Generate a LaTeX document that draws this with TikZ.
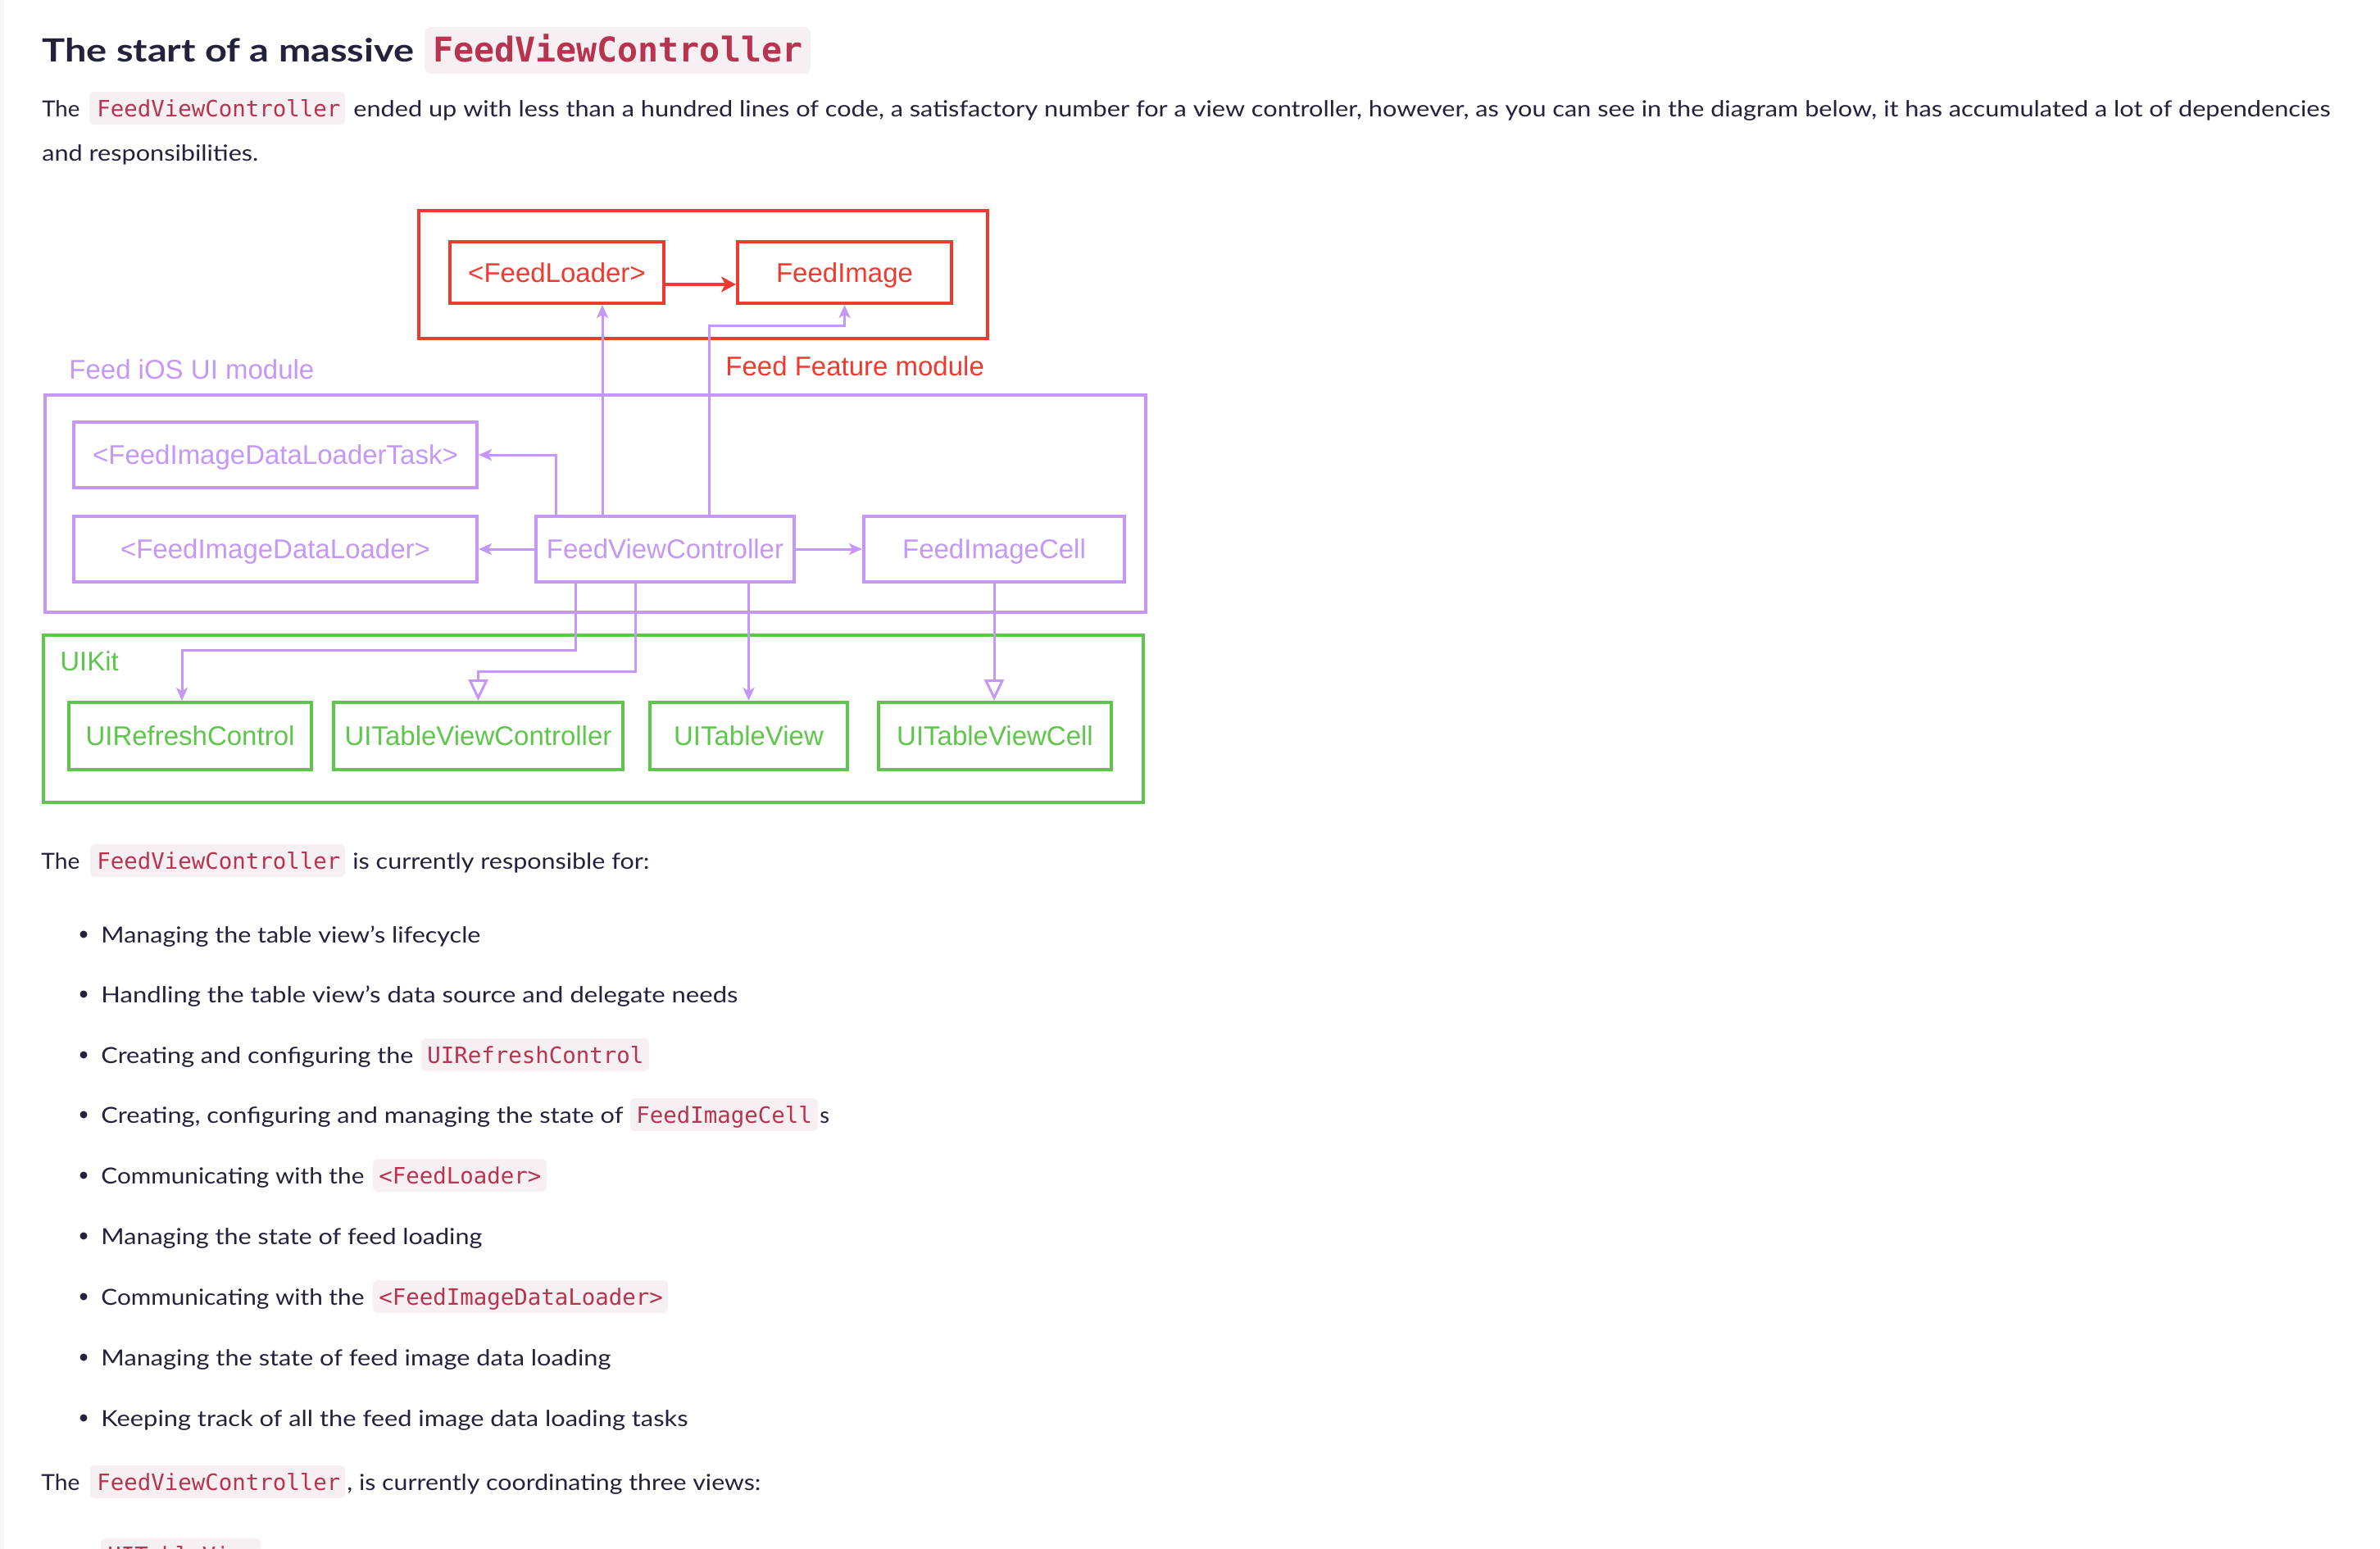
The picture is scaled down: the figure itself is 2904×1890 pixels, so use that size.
\documentclass[tikz,border=0pt]{standalone}
\usepackage{graphicx}
\usepackage{fontspec}
\setmainfont{Lato}
\newfontfamily\diafont{Liberation Sans}
\newfontfamily\codefont{DejaVu Sans Mono}
\usetikzlibrary{arrows.meta,calc}
\definecolor{fred}{HTML}{EE3B30}
\definecolor{fpurple}{HTML}{C497F8}
\definecolor{fgreen}{HTML}{5EC64B}
\definecolor{ink}{HTML}{22233A}
\definecolor{codered}{HTML}{B8334F}
\definecolor{chipbg}{HTML}{F7F0F2}
\newlength\pxu \setlength\pxu{0.5pt}
\newcommand\bodytext[5]{%
  \node[bodyfont, anchor=base west, inner sep=0pt] (#1) at (#2,#3) {\resizebox{#4\pxu}{\height}{#5}};}
\newcommand\codechip[6]{% name, x1, x2, baseline, textx, text
  \fill[chipbg, rounded corners=3pt] (#2,#4-30) rectangle (#3,#4+10);
  \node[codestyle, anchor=base west, inner sep=0pt] (#1) at (#5,#4) {#6};}
\newcommand\bulletdot[2]{\fill[ink] (102,#2-10) circle[radius=2.25pt] coordinate (#1);}
\tikzset{
  bodyfont/.style={text=ink, font=\fontsize{13.5}{16}\selectfont},
  codestyle/.style={text=codered, font=\codefont\fontsize{13.7}{16}\selectfont},
  dbox/.style={draw, line width=2pt, inner sep=0pt, font=\diafont\fontsize{16.5}{18}\selectfont, text height=11.8pt, text depth=0pt},
  rbox/.style={dbox, draw=fred, text=fred},
  pbox/.style={dbox, draw=fpurple, text=fpurple},
  gbox/.style={dbox, draw=fgreen, text=fgreen},
  lbl/.style={inner sep=0pt, anchor=base west, font=\diafont\fontsize{16.5}{18}\selectfont},
  parr/.style={draw=fpurple, line width=1.5pt, -{Stealth[length=8pt,width=7pt,inset=2pt]}},
  popen/.style={draw=fpurple, line width=1.5pt, -{Triangle[open,length=13pt,width=12pt,line width=1.5pt]}},
  rarr/.style={draw=fred, line width=2pt, -{Stealth[length=9pt,width=9.5pt,inset=2.5pt]}}
}
\begin{document}
\begin{tikzpicture}[x=0.5pt, y=-0.5pt]
\useasboundingbox (0,0) rectangle (2904,1890);
\clip (0,0) rectangle (2904,1890);
\fill[white] (0,0) rectangle (2904,1890);
\fill[black!4] (0,0) rectangle (5,1890);

% ---------- title ----------
\node[text=ink, font=\bfseries\fontsize{19.5}{22}\selectfont, anchor=base west, inner sep=0pt] (title) at (51,75) {\resizebox{454\pxu}{\height}{The start of a massive}};
\fill[chipbg, rounded corners=4pt] (518,33) rectangle (989,90);
\node[text=codered, font=\codefont\bfseries\fontsize{20.8}{24}\selectfont, anchor=base west, inner sep=0pt] (titlecode) at (528,75) {FeedViewController};

% ---------- first paragraph ----------
\bodytext{p1a}{51}{142}{46}{The}
\codechip{p1c}{109}{421}{142}{118}{FeedViewController}
\bodytext{p1b}{431}{142}{2412}{ended up with less than a hundred lines of code, a satisfactory number for a view controller, however, as you can see in the diagram below, it has accumulated a lot of dependencies}
\bodytext{p1d}{51}{196}{264}{and responsibilities.}

% ---------- diagram: module frames ----------
\node[draw=fred, line width=2pt, minimum width=347pt, minimum height=78pt, inner sep=0pt] (ffm) at (858,335) {};
\node[draw=fpurple, line width=2pt, minimum width=671.5pt, minimum height=132.5pt, inner sep=0pt] (uim) at (726.5,614.5) {};
\node[draw=fgreen, line width=2pt, minimum width=671pt, minimum height=102pt, inner sep=0pt] (kit) at (724,877) {};
\node[lbl, text=fpurple] (luim) at (84,462) {Feed iOS UI module};
\node[lbl, text=fred] (lffm) at (885,458) {Feed Feature module};
\node[lbl, text=fgreen] (lkit) at (73,818) {UIKit};

% ---------- diagram: boxes ----------
\node[rbox, minimum width=130.5pt, minimum height=37.5pt] (fl) at (679.5,332.5) {<FeedLoader>};
\node[rbox, minimum width=130.5pt, minimum height=37.5pt] (fi) at (1030.5,332.5) {FeedImage};
\node[pbox, minimum width=246pt, minimum height=40pt] (task) at (336,555) {<FeedImageDataLoaderTask>};
\node[pbox, minimum width=246pt, minimum height=40pt] (fidl) at (336,670) {<FeedImageDataLoader>};
\node[pbox, minimum width=157.5pt, minimum height=40pt] (fvc) at (811.5,670) {FeedViewController};
\node[pbox, minimum width=159pt, minimum height=40pt] (fic) at (1213,670) {FeedImageCell};
\node[gbox, minimum width=148pt, minimum height=41pt] (urc) at (232,898) {UIRefreshControl};
\node[gbox, minimum width=176.5pt, minimum height=41pt] (utvc) at (583.5,898) {UITableViewController};
\node[gbox, minimum width=120.5pt, minimum height=41pt] (utv) at (913.5,898) {UITableView};
\node[gbox, minimum width=142pt, minimum height=41pt] (utvcell) at (1214,898) {UITableViewCell};

% ---------- diagram: connectors ----------
\draw[rarr] (fl.east |- 0,347) -- (fi.west |- 0,347);
\draw[parr] (fvc.north -| 678,0) |- (task.east);
\draw[parr] (fvc.north -| 735,0) -- (fl.south -| 735,0);
\draw[parr] (fvc.north -| 865,0) |- ($(fi.south)+(0,25)$) -- (fi.south);
\draw[parr] (fvc.west) -- (fidl.east);
\draw[parr] (fvc.east) -- (fic.west);
\draw[parr] (fvc.south -| 702,0) |- ($(urc.north |- 0,793)+(-10,0)$) -- ($(urc.north)+(-10,0)$);
\draw[popen] (fvc.south -| 775,0) |- (utvc.north |- 0,819) -- (utvc.north);
\draw[parr] (fvc.south -| utv.north) -- (utv.north);
\draw[popen] (fic.south) -- (fic.south |- utvcell.north);

% ---------- second paragraph ----------
\bodytext{p2a}{50}{1060}{47}{The}
\codechip{p2c}{110}{421}{1060}{118}{FeedViewController}
\bodytext{p2b}{430}{1060}{362}{is currently responsible for:}

% ---------- bullets ----------
\bulletdot{d1}{1150}\bodytext{b1}{123}{1150}{463}{Managing the table view’s lifecycle}
\bulletdot{d2}{1223}\bodytext{b2}{123}{1223}{777}{Handling the table view’s data source and delegate needs}
\bulletdot{d3}{1297}\bodytext{b3}{123}{1297}{381}{Creating and configuring the}
\codechip{b3c}{514}{792}{1297}{521}{UIRefreshControl}
\bulletdot{d4}{1370}\bodytext{b4}{123}{1370}{637}{Creating, configuring and managing the state of}
\codechip{b4c}{769}{998}{1370}{776}{FeedImageCell}
\node[bodyfont, anchor=base west, inner sep=0pt] (b4s) at (1000,1370) {s};
\bulletdot{d5}{1444}\bodytext{b5}{123}{1444}{321}{Communicating with the}
\codechip{b5c}{455}{667}{1444}{462}{<FeedLoader>}
\bulletdot{d6}{1518}\bodytext{b6}{123}{1518}{465}{Managing the state of feed loading}
\bulletdot{d7}{1592}\bodytext{b7}{123}{1592}{321}{Communicating with the}
\codechip{b7c}{455}{815}{1592}{462}{<FeedImageDataLoader>}
\bulletdot{d8}{1666}\bodytext{b8}{123}{1666}{622}{Managing the state of feed image data loading}
\bulletdot{d9}{1740}\bodytext{b9}{123}{1740}{716}{Keeping track of all the feed image data loading tasks}

% ---------- third paragraph ----------
\bodytext{p3a}{50}{1818}{47}{The}
\codechip{p3c}{110}{421}{1818}{118}{FeedViewController}
\bodytext{p3b}{423}{1818}{505}{, is currently coordinating three views:}
\codechip{p4c}{123}{318}{1907}{131}{UITableView}
\end{tikzpicture}
\end{document}
